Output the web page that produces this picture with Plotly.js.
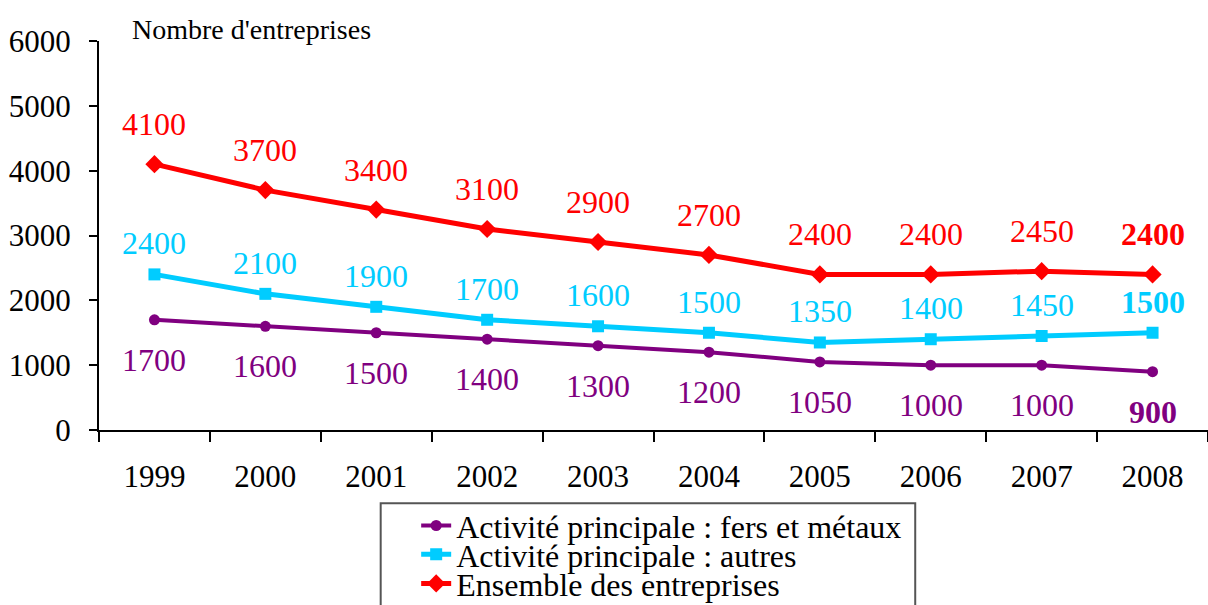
<!DOCTYPE html>
<html>
<head>
<meta charset="utf-8">
<script src="https://cdn.plot.ly/plotly-3.0.1.min.js"></script>
<style>
  html, body { margin: 0; padding: 0; background: #fff; }
  #graph { width: 1208px; height: 605px; }
</style>
</head>
<body>
<div id="graph"></div>
<script>
const years = ['1999', '2000', '2001', '2002', '2003', '2004', '2005', '2006', '2007', '2008'];
const fersMetaux = [1700, 1600, 1500, 1400, 1300, 1200, 1050, 1000, 1000, 900];
const autres = [2400, 2100, 1900, 1700, 1600, 1500, 1350, 1400, 1450, 1500];
const ensemble = [4100, 3700, 3400, 3100, 2900, 2700, 2400, 2400, 2450, 2400];

const FONT = 'Liberation Serif';

const series = [
    { name: 'Activité principale : fers et métaux', values: fersMetaux, color: '#800080',
      symbol: 'circle', size: 11, width: 4, shift: -40, legend: 'legend' },
    { name: 'Activité principale : autres', values: autres, color: '#00CCFF',
      symbol: 'square', size: 12, width: 5, shift: 31, legend: 'legend2' },
    { name: 'Ensemble des entreprises', values: ensemble, color: '#FF0000',
      symbol: 'diamond', size: 14, width: 5, shift: 40, legend: 'legend3' }
];

const traces = series.map(s => ({
    x: years,
    y: s.values,
    type: 'scatter',
    mode: 'lines+markers',
    name: s.name,
    legend: s.legend,
    line: { color: s.color, width: s.width },
    marker: { color: s.color, symbol: s.symbol, size: s.size },
    hoverinfo: 'skip'
}));

// étiquettes de valeurs, la dernière année en gras
// (x en numéro de catégorie, sinon '1999' est lu comme un nombre)
const annotations = [];
series.forEach(s => {
    s.values.forEach((v, i) => {
        const last = i === years.length - 1;
        annotations.push({
            x: i, y: v, xref: 'x', yref: 'y',
            text: last ? '<b>' + v + '</b>' : String(v),
            showarrow: false,
            yshift: s.shift,
            font: { family: FONT, size: 32, color: s.color }
        });
    });
});

annotations.push({
    x: 0.028, xref: 'paper', xanchor: 'left',
    y: 6000, yref: 'y', yanchor: 'bottom', yshift: -6,
    text: "Nombre d'entreprises",
    showarrow: false,
    font: { family: FONT, size: 28, color: '#000' }
});

// une légende par série, pour serrer les lignes comme dans l'original
function legendAt(y) {
    return {
        x: 0.286, xanchor: 'left',
        y: y, yanchor: 'middle',
        bgcolor: 'rgba(0,0,0,0)',
        borderwidth: 0,
        font: { family: FONT, size: 32, color: '#000' }
    };
}

const layout = {
    width: 1208,
    height: 605,
    paper_bgcolor: '#fff',
    plot_bgcolor: '#fff',
    font: { family: FONT, size: 31, color: '#000' },
    margin: { l: 99, r: 0, t: 41, b: 175, pad: 0, autoexpand: false },
    showlegend: true,
    legend: legendAt(-0.246),
    legend2: legendAt(-0.320),
    legend3: legendAt(-0.395),
    shapes: [{
        type: 'rect', xref: 'paper', yref: 'paper',
        x0: 0.254, x1: 0.736, y0: -0.188, y1: -0.5,
        line: { color: '#555', width: 2 },
        fillcolor: 'rgba(0,0,0,0)',
        layer: 'below'
    }],
    xaxis: {
        type: 'category',
        range: [-0.5, 9.5],
        showline: true, linecolor: '#000', linewidth: 2,
        ticks: 'outside', ticklen: 10, tickwidth: 2, tickcolor: '#000',
        tickson: 'boundaries',
        ticklabelstandoff: 18,
        showgrid: false, zeroline: false,
        fixedrange: true
    },
    yaxis: {
        range: [0, 6000],
        dtick: 1000,
        showline: true, linecolor: '#000', linewidth: 2,
        ticks: 'outside', ticklen: 8, tickwidth: 2, tickcolor: '#000',
        ticklabelstandoff: 12,
        showgrid: false, zeroline: false,
        fixedrange: true
    },
    annotations: annotations
};

Plotly.newPlot('graph', traces, layout, { displayModeBar: false, staticPlot: true });
</script>
</body>
</html>
